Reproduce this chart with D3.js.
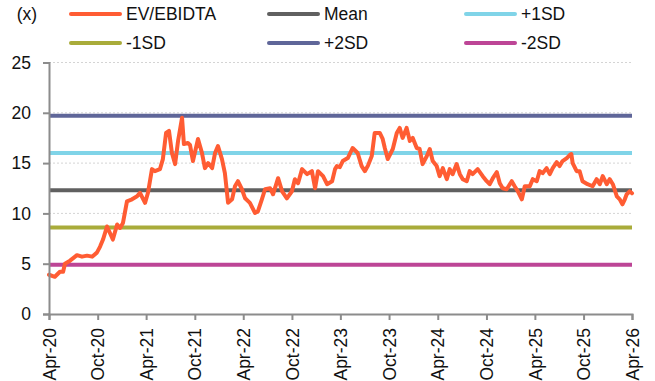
<!DOCTYPE html>
<html>
<head>
<meta charset="utf-8">
<script src="https://cdn.jsdelivr.net/npm/d3@7"></script>
<style>
  html, body { margin: 0; padding: 0; background: #fff; }
  svg { display: block; font-family: "Liberation Sans", Arial, sans-serif; }
</style>
</head>
<body>
<svg id="chart" width="655" height="381"></svg>
<script>
// EV/EBIDTA multiple, observation dates and values
const dates = [
  "2020-04-01","2020-04-23","2020-05-12","2020-05-24","2020-05-31","2020-06-19","2020-07-15","2020-08-03",
  "2020-08-22","2020-09-10","2020-09-28","2020-10-10","2020-10-21","2020-11-05","2020-11-16","2020-11-27",
  "2020-12-13","2020-12-24","2021-01-04","2021-01-19","2021-02-07","2021-02-26","2021-03-09","2021-03-28",
  "2021-04-08","2021-04-23","2021-05-04","2021-05-23","2021-06-03","2021-06-15","2021-06-26","2021-07-07",
  "2021-07-19","2021-07-30","2021-08-14","2021-08-21","2021-09-05","2021-09-13","2021-09-24","2021-10-13",
  "2021-10-28","2021-11-08","2021-11-20","2021-12-05","2021-12-16","2021-12-27","2022-01-11","2022-01-22",
  "2022-02-03","2022-02-18","2022-03-01","2022-03-12","2022-03-27","2022-04-08","2022-04-26","2022-05-15",
  "2022-05-26","2022-06-10","2022-06-22","2022-07-11","2022-07-22","2022-08-10","2022-08-25","2022-09-12",
  "2022-10-01","2022-10-12","2022-10-24","2022-11-08","2022-11-27","2022-12-15","2022-12-27","2023-01-07",
  "2023-01-26","2023-02-10","2023-03-01","2023-03-12","2023-03-19","2023-03-30","2023-04-10","2023-04-29",
  "2023-05-17","2023-06-05","2023-06-20","2023-07-02","2023-07-13","2023-07-28","2023-08-08","2023-08-27",
  "2023-09-07","2023-09-15","2023-09-26","2023-10-15","2023-10-30","2023-11-10","2023-11-21","2023-12-06",
  "2023-12-18","2023-12-29","2024-01-13","2024-01-24","2024-02-04","2024-02-20","2024-03-02","2024-03-13",
  "2024-03-28","2024-04-08","2024-04-20","2024-05-05","2024-05-16","2024-05-27","2024-06-11","2024-06-23",
  "2024-07-04","2024-07-19","2024-07-30","2024-08-10","2024-08-29","2024-09-17","2024-10-02","2024-10-13",
  "2024-10-25","2024-11-09","2024-11-20","2024-12-01","2024-12-16","2025-01-04","2025-01-15","2025-01-27",
  "2025-02-11","2025-02-22","2025-03-13","2025-03-24","2025-04-08","2025-04-19","2025-04-30","2025-05-15",
  "2025-05-27","2025-06-07","2025-06-22","2025-07-03","2025-07-14","2025-07-30","2025-08-10","2025-08-16",
  "2025-08-21","2025-09-05","2025-09-16","2025-09-27","2025-10-16","2025-11-04","2025-11-19","2025-12-01",
  "2025-12-12","2025-12-27","2026-01-07","2026-01-19","2026-02-03","2026-02-14","2026-02-24","2026-03-05",
  "2026-03-12","2026-03-23","2026-04-01"
];
const evEbitda = [
  3.9, 3.7, 4.2, 4.2, 5.0, 5.3, 5.85, 5.7,
  5.8, 5.7, 6.1, 6.7, 7.4, 8.7, 8.05, 7.4,
  8.9, 8.55, 9.05, 11.2, 11.4, 11.7, 12.05, 11.05,
  12.05, 14.4, 14.2, 14.4, 15.4, 18.0, 18.2, 16.0,
  14.9, 17.2, 19.5, 16.9, 17.0, 16.8, 15.2, 17.4,
  16.0, 14.5, 15.0, 14.5, 16.0, 16.7, 15.4, 14.0,
  11.05, 11.4, 12.7, 13.2, 12.4, 11.5, 11.05, 10.05,
  10.2, 11.4, 12.4, 12.5, 11.9, 13.5, 12.2, 11.5,
  12.2, 13.4, 13.0, 14.4, 13.9, 14.2, 12.5, 14.2,
  13.7, 12.9, 13.2, 14.4, 14.7, 14.6, 15.2, 15.5,
  16.5, 16.0, 14.7, 14.2, 14.7, 15.7, 18.0, 18.0,
  17.4, 16.5, 15.4, 16.4, 18.0, 18.5, 17.5, 18.5,
  17.2, 17.5, 16.5, 16.4, 14.9, 15.7, 16.4, 15.2,
  14.7, 13.7, 14.5, 13.4, 14.4, 13.9, 14.9, 13.9,
  13.4, 13.2, 14.2, 13.9, 14.4, 13.7, 13.2, 12.9,
  13.5, 14.1, 13.0, 12.5, 12.4, 13.2, 12.7, 12.2,
  11.4, 12.7, 12.7, 13.4, 13.2, 14.2, 14.0, 14.5,
  13.9, 14.5, 15.1, 14.7, 15.2, 15.5, 15.8, 15.9,
  15.0, 14.2, 14.2, 13.2, 12.9, 12.7, 13.4, 12.9,
  13.7, 12.9, 13.4, 12.9, 11.7, 11.4, 10.9, 11.4,
  11.9, 12.2, 12.0
];

// Mean and standard-deviation bands
const bandNames = ["Mean", "+1SD", "-1SD", "+2SD", "-2SD"];
const bandValues = [12.3, 16.0, 8.6, 19.7, 4.9];

// Axis ticks
const yTicks = [0, 5, 10, 15, 20, 25];
const xTickDates = ["2020-04-01","2020-10-01","2021-04-01","2021-10-01","2022-04-01","2022-10-01",
  "2023-04-01","2023-10-01","2024-04-01","2024-10-01","2025-04-01","2025-10-01","2026-04-01"];
const xTickLabels = ["Apr-20","Oct-20","Apr-21","Oct-21","Apr-22","Oct-22",
  "Apr-23","Oct-23","Apr-24","Oct-24","Apr-25","Oct-25","Apr-26"];

// Legend order (two rows of three)
const legendLabels = ["EV/EBIDTA", "Mean", "+1SD", "-1SD", "+2SD", "-2SD"];

// Styling
const colors = {
  "EV/EBIDTA": "#FF5C33",
  "Mean": "#606060",
  "+1SD": "#80D4E8",
  "-1SD": "#A9AC3A",
  "+2SD": "#5F6699",
  "-2SD": "#BD4596"
};
const axisColor = "#8C8C8C";
const gridColor = "#D4D4D4";
const textColor = "#111";

const parse = d3.timeParse("%Y-%m-%d");
const svg = d3.select("#chart");
const margin = { left: 49, right: 23, top: 62.5, bottom: 67 };
const W = 655, H = 381;

const x = d3.scaleTime()
  .domain([parse(xTickDates[0]), parse(xTickDates[xTickDates.length - 1])])
  .range([margin.left, W - margin.right]);
const y = d3.scaleLinear()
  .domain([0, 25])
  .range([H - margin.bottom, margin.top]);

// Gridlines
svg.append("g")
  .selectAll("line")
  .data(yTicks.filter(t => t > 0))
  .join("line")
  .attr("x1", margin.left).attr("x2", W - margin.right)
  .attr("y1", d => y(d)).attr("y2", d => y(d))
  .attr("stroke", gridColor)
  .attr("stroke-width", 1)
  .attr("stroke-dasharray", "2,2");

// Band reference lines
svg.append("g")
  .selectAll("line")
  .data(bandNames.map((n, i) => ({ name: n, value: bandValues[i] })))
  .join("line")
  .attr("x1", margin.left).attr("x2", W - margin.right)
  .attr("y1", d => y(d.value)).attr("y2", d => y(d.value))
  .attr("stroke", d => colors[d.name])
  .attr("stroke-width", 4);

// EV/EBIDTA series
const series = dates.map((d, i) => ({ date: parse(d), value: evEbitda[i] }));
svg.append("path")
  .datum(series)
  .attr("fill", "none")
  .attr("stroke", colors["EV/EBIDTA"])
  .attr("stroke-width", 4)
  .attr("stroke-linejoin", "round")
  .attr("stroke-linecap", "round")
  .attr("d", d3.line().x(d => x(d.date)).y(d => y(d.value)));

// Y axis
const yAxis = svg.append("g")
  .attr("transform", `translate(${margin.left},0)`)
  .call(d3.axisLeft(y).tickValues(yTicks).tickSize(6).tickPadding(12).tickFormat(d3.format("d")));
yAxis.select(".domain").attr("stroke", axisColor).attr("stroke-width", 2);
yAxis.selectAll(".tick line").attr("stroke", axisColor).attr("stroke-width", 2);
yAxis.selectAll(".tick text")
  .attr("fill", textColor)
  .style("font-size", "17.5px");

// X axis
const xAxis = svg.append("g")
  .attr("transform", `translate(0,${H - margin.bottom})`)
  .call(d3.axisBottom(x).tickValues(xTickDates.map(parse)).tickSize(6)
    .tickFormat((d, i) => xTickLabels[i]));
xAxis.select(".domain").attr("stroke", axisColor).attr("stroke-width", 2);
xAxis.selectAll(".tick line").attr("stroke", axisColor).attr("stroke-width", 2);
xAxis.selectAll(".tick text")
  .attr("fill", textColor)
  .style("font-size", "17.5px")
  .attr("text-anchor", "end")
  .attr("transform", "rotate(-90)")
  .attr("x", -14)
  .attr("y", 0)
  .attr("dy", "0.35em");

// Unit label
svg.append("text")
  .attr("x", 27).attr("y", 14)
  .attr("dy", "0.35em")
  .attr("text-anchor", "middle")
  .attr("fill", textColor)
  .style("font-size", "17.5px")
  .text("(x)");

// Legend
const colX = [69, 267, 464];
const rowY = [14, 43];
const legend = svg.append("g")
  .selectAll("g")
  .data(legendLabels)
  .join("g")
  .attr("transform", (d, i) => `translate(${colX[i % 3]},${rowY[Math.floor(i / 3)]})`);
legend.append("line")
  .attr("x1", 2).attr("x2", 51)
  .attr("stroke", d => colors[d])
  .attr("stroke-width", 4)
  .attr("stroke-linecap", "round");
legend.append("text")
  .attr("x", 57)
  .attr("dy", "0.35em")
  .attr("fill", textColor)
  .style("font-size", "17.5px")
  .text(d => d);
</script>
</body>
</html>
